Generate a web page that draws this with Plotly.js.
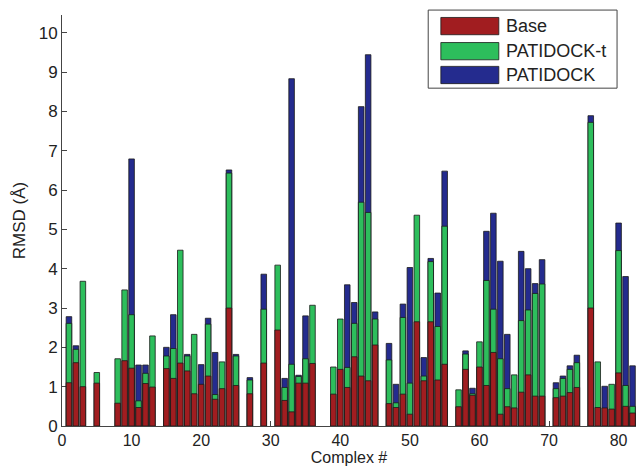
<!DOCTYPE html>
<html><head><meta charset="utf-8">
<script src="https://cdn.plot.ly/plotly-3.0.1.min.js"></script>
<style>html,body{margin:0;padding:0;background:#fff}#chart{width:643px;height:468px}</style>
</head><body><div id="chart"></div>
<script>
const complexIds = [1,2,3,4,5,6,7,8,9,10,11,12,13,14,15,16,17,18,19,20,21,22,23,24,25,26,27,28,29,30,31,32,33,34,35,36,37,38,39,40,41,42,43,44,45,46,47,48,49,50,51,52,53,54,55,56,57,58,59,60,61,62,63,64,65,66,67,68,69,70,71,72,73,74,75,76,77,78,79,80,81,82];
const base = [1.10,1.61,1.00,null,1.09,null,null,0.58,1.66,1.47,
  0.47,1.08,0.99,null,1.46,1.21,1.60,1.40,0.82,1.06,
  1.27,0.68,0.95,3.00,1.03,null,0.82,null,1.60,null,
  2.44,0.65,0.36,1.09,1.09,1.59,null,null,0.81,1.44,
  0.98,1.76,1.27,1.15,2.06,null,0.57,0.47,0.81,0.30,
  2.65,1.15,2.65,1.17,1.57,null,0.49,1.44,0.78,1.50,
  1.03,1.87,0.30,0.49,0.46,0.86,1.30,0.76,0.76,null,
  0.72,0.76,0.85,0.98,null,3.00,0.47,0.46,0.43,1.35,
  0.50,0.33];
const patidockT = [2.61,1.95,3.68,null,1.36,null,null,1.71,3.46,2.83,
  0.64,1.34,2.29,null,1.78,1.97,4.47,1.78,2.33,null,
  2.59,0.80,1.63,6.43,1.78,null,1.17,null,2.97,null,
  4.09,0.98,1.57,1.26,1.71,3.07,null,null,1.50,2.72,
  1.49,2.61,5.69,5.43,2.72,null,1.68,0.59,2.76,1.09,
  5.36,1.27,4.18,2.53,5.08,null,0.92,1.83,0.82,2.14,
  3.70,2.97,1.71,0.95,1.30,2.68,2.95,3.37,3.61,null,
  0.95,1.21,1.44,1.61,null,7.72,1.63,null,1.06,4.46,
  1.03,0.50];
const patidock = [2.78,2.04,null,null,null,null,null,null,null,6.79,
  1.55,1.55,null,null,2.00,2.83,null,1.82,null,1.56,
  2.74,1.87,null,6.51,1.82,null,1.23,null,3.86,null,
  null,1.21,8.83,1.29,2.80,null,null,null,null,null,
  3.59,3.14,8.12,9.44,2.90,null,2.10,1.06,3.10,4.03,
  null,1.74,4.26,3.38,6.48,null,null,1.91,0.96,null,
  4.95,5.41,4.19,2.33,null,4.44,4.00,3.62,4.23,null,
  1.10,1.27,1.53,1.80,null,7.89,null,1.01,null,5.16,
  3.80,1.53];
const seriesNames = ['Base', 'PATIDOCK-t', 'PATIDOCK'];
const seriesColors = ['#A11D20', '#2DBE5C', '#242B8E'];
const xTicks = [0,10,20,30,40,50,60,70,80];
const yTicks = [0,1,2,3,4,5,6,7,8,9,10];

const seriesValues = [base, patidockT, patidock];
// draw back-to-front: PATIDOCK, PATIDOCK-t, Base
const traces = [2,1,0].map(i => ({
  type: 'bar', x: complexIds, y: seriesValues[i], name: seriesNames[i],
  width: 0.8, showlegend: false,
  marker: {color: seriesColors[i], line: {color: '#1b1b1b', width: 0.8}}
}));

// custom MATLAB-like legend
const shapes = [{type:'rect', xref:'paper', yref:'paper', x0:0.638, x1:0.967, y0:0.822, y1:1.012,
  line:{color:'#444', width:1}, fillcolor:'#fff', layer:'above'}];
const annotations = [];
const rowY = [0.973, 0.912, 0.854];
const rowH = 0.042;
seriesNames.forEach((n, i) => {
  shapes.push({type:'rect', xref:'paper', yref:'paper', x0:0.660, x1:0.761,
    y0: rowY[i]-rowH/2, y1: rowY[i]+rowH/2, fillcolor: seriesColors[i],
    line:{color:'#1b1b1b', width:0.8}, layer:'above'});
  annotations.push({xref:'paper', yref:'paper', x:0.770, y:rowY[i], text:n, showarrow:false,
    xanchor:'left', yanchor:'middle', font:{size:18, color:'#222', family:'Liberation Sans, Arial, sans-serif'}});
});

const axisCommon = {showline:true, linecolor:'#444', linewidth:1, ticks:'inside', ticklen:5,
  tickcolor:'#444', showgrid:false, zeroline:false, layer:'below traces',
  tickfont:{size:16, color:'#222'}};

const layout = {
  width: 643, height: 468,
  margin: {l:62, r:7, t:15, b:42},
  paper_bgcolor:'#fff', plot_bgcolor:'#fff',
  font: {family:'Liberation Sans, Arial, sans-serif', color:'#222'},
  barmode: 'overlay', bargap: 0.2,
  xaxis: Object.assign({}, axisCommon, {range:[0, 82.5], tickvals: xTicks, ticktext: xTicks.map(String),
    ticklabelstandoff: 0,
    title:{text:'Complex #', font:{size:16, color:'#222'}, standoff:0}}),
  yaxis: Object.assign({}, axisCommon, {range:[0, 10.45], tickvals: yTicks, ticktext: yTicks.map(String),
    tickfont:{size:17, color:'#222'},
    title:{text:'RMSD (Å)', font:{size:17, color:'#222'}, standoff:8}}),
  shapes: shapes, annotations: annotations
};
Plotly.newPlot('chart', traces, layout, {displayModeBar:false, staticPlot:true});
</script></body></html>
